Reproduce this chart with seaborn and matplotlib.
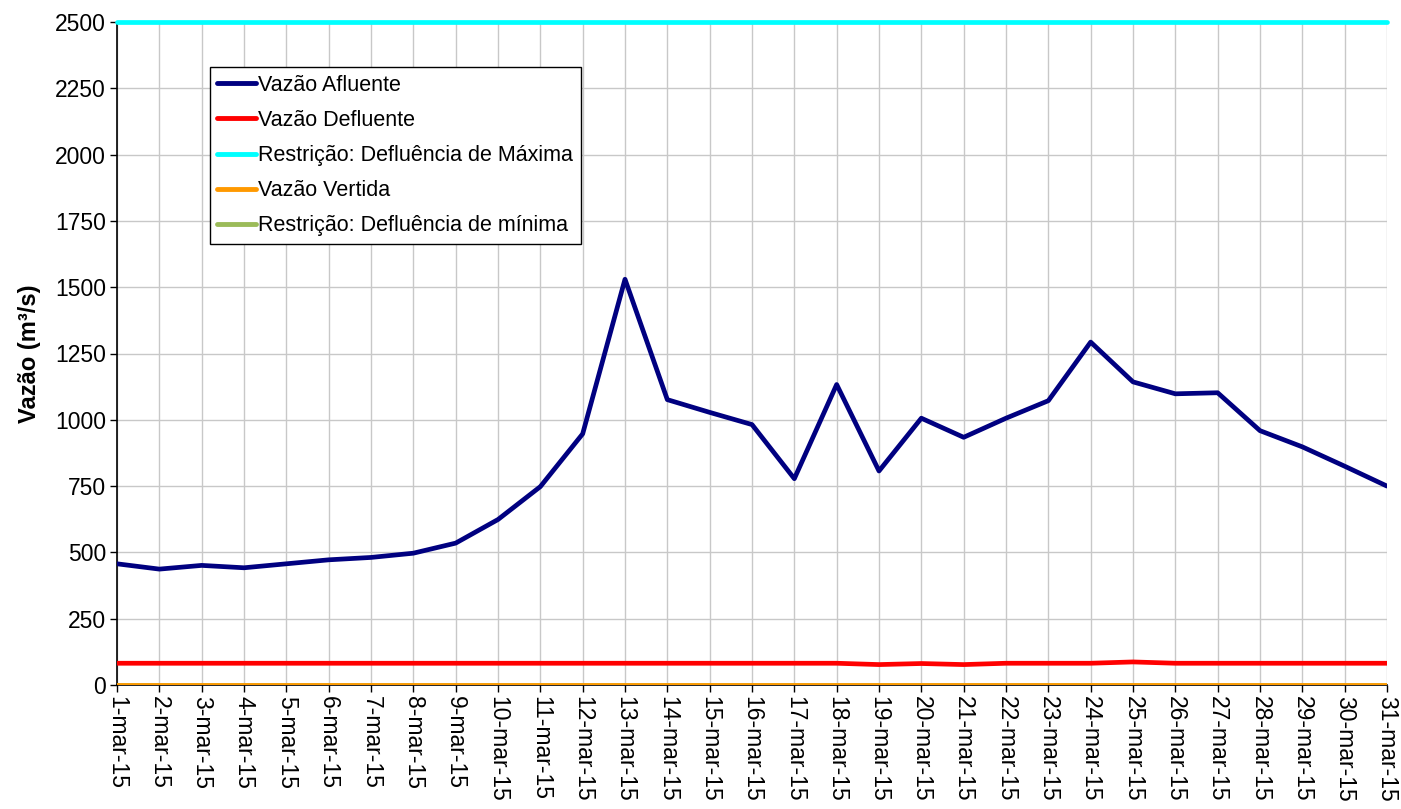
import matplotlib
matplotlib.use("Agg")
import matplotlib.pyplot as plt
import seaborn as sns
import pandas as pd

days = list(range(1, 32))
tick_labels = [f"{d}-mar-15" for d in days]

vazao_afluente = [457, 437, 451, 442, 457, 472, 481, 497, 535, 624,
                  748, 947, 1530, 1076, 1028, 982, 778, 1133, 807, 1006,
                  934, 1006, 1072, 1293, 1143, 1098, 1102, 959, 898, 825, 750]
vazao_defluente = [82, 82, 82, 82, 82, 82, 82, 82, 82, 82,
                   82, 82, 82, 82, 82, 82, 82, 82, 77, 81,
                   77, 82, 82, 82, 87, 82, 82, 82, 82, 82, 82]
restricao_maxima = [2500] * 31
vazao_vertida = [0] * 31
restricao_minima = [0] * 31

series = [
    ("Vazão Afluente", vazao_afluente, "#000080"),
    ("Vazão Defluente", vazao_defluente, "#FF0000"),
    ("Restrição: Defluência de Máxima", restricao_maxima, "#00FFFF"),
    ("Vazão Vertida", vazao_vertida, "#FF9900"),
    ("Restrição: Defluência de mínima", restricao_minima, "#9BBB59"),
]

sns.set_theme(style="whitegrid")
plt.rcParams["font.family"] = ["Liberation Sans", "DejaVu Sans"]
plt.rcParams["text.color"] = "black"
plt.rcParams["axes.labelcolor"] = "black"

fig = plt.figure(figsize=(14.01, 8.09), dpi=100)
ax = fig.add_axes([117 / 1401, 1 - 685 / 809, 1270 / 1401, 663 / 809])
ax.set_facecolor("white")

zorders = {"Vazão Afluente": 8, "Vazão Defluente": 7,
           "Restrição: Defluência de Máxima": 7, "Vazão Vertida": 7,
           "Restrição: Defluência de mínima": 6.5}
for name, vals, col in series:
    df = pd.DataFrame({"dia": days, "v": vals})
    sns.lineplot(data=df, x="dia", y="v", ax=ax, color=col, linewidth=3.4,
                 label=name, zorder=zorders[name],
                 clip_on=(name != "Restrição: Defluência de Máxima"))

ax.set_xlim(1, 31)
ax.set_ylim(0, 2500)
ax.set_xticks(days)
ax.set_xticklabels(tick_labels, rotation=-90, fontsize=16.5)
ax.set_yticks(range(0, 2501, 250))
ax.set_yticklabels([str(v) for v in range(0, 2501, 250)], fontsize=16.5)
ax.set_xlabel("")
ax.set_ylabel("Vazão (m³/s)", fontsize=17, fontweight="bold", labelpad=10,
              color="black")

ax.grid(True, color="#c8c8c8", linewidth=1.0)
for s in ["top", "right"]:
    ax.spines[s].set_visible(False)
for s in ["left", "bottom"]:
    ax.spines[s].set_visible(True)
    ax.spines[s].set_color("black")
    ax.spines[s].set_linewidth(1.2)
    ax.spines[s].set_zorder(5)
ax.tick_params(axis="both", which="both", direction="out", length=5, width=1,
               color="black", labelcolor="black", bottom=True, left=True, pad=3)

leg = ax.legend(loc="upper left", bbox_to_anchor=(0.0732, 0.932),
                borderaxespad=0, fontsize=15.5, frameon=True, fancybox=False,
                edgecolor="black", framealpha=1, handlelength=1.8,
                handletextpad=0.1, labelspacing=0.66, borderpad=0.35)
leg.set_zorder(10)
leg.get_frame().set_linewidth(1.0)
for t in leg.get_texts():
    t.set_color("black")
for line in leg.get_lines():
    line.set_linewidth(3.5)

fig.savefig("out.png", dpi=100, facecolor="white")
